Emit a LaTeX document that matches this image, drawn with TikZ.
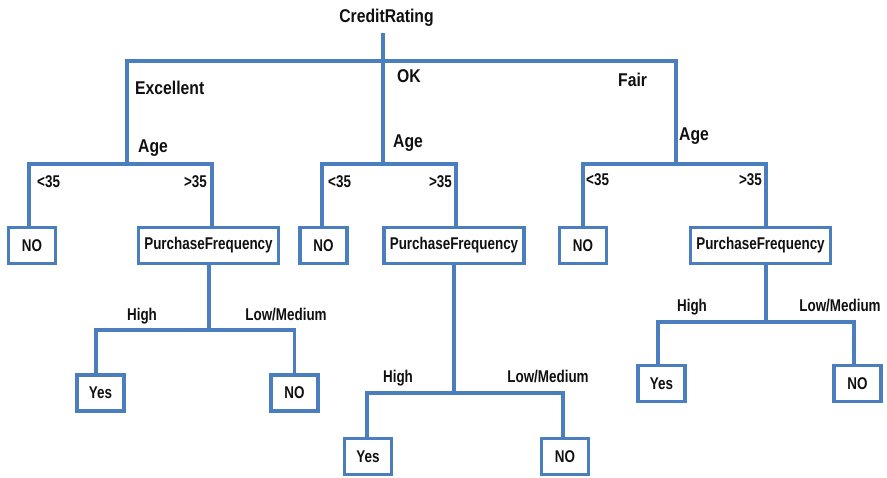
\documentclass[tikz,border=0pt]{standalone}
\usepackage{fontspec}
\setmainfont{Liberation Sans Bold}[FakeStretch=0.8]
\newfontfamily\headfont{Liberation Sans Bold}[FakeStretch=0.85]
\newfontfamily\labelfont{Liberation Sans Bold}[FakeStretch=0.79]
\definecolor{branch}{HTML}{4A7EBF}
\definecolor{ink}{HTML}{101010}
\begin{document}
\begin{tikzpicture}[x=1pt,y=-1pt,
  link/.style={draw=branch, line width=3.2pt},
  box/.style={draw=branch, line width=3.2pt, minimum height=36pt, inner sep=0pt,
    text=ink, font=\labelfont\fontsize{17}{19}\selectfont},
  leafbox/.style={box, minimum width=47pt},
  attrbox/.style={box, minimum width=140pt},
  big/.style={text=ink, inner sep=0pt, font=\headfont\fontsize{18.5}{20}\selectfont},
  small/.style={text=ink, inner sep=0pt, font=\labelfont\fontsize{17}{19}\selectfont}]
\useasboundingbox (0,0) rectangle (887,477);

% root and first split
\node[big, anchor=base] (root) at (386.5,22.3) {CreditRating};
\coordinate (stem) at (383,33);
\coordinate (j0) at (383,61);
\coordinate (aL) at (127,164);
\coordinate (aM) at (383,164);
\coordinate (aR) at (676,164);
\draw[link] (stem) -- (aM);
\draw[link] (aL) |- (j0) -| (aR);

\node[big, anchor=base west] (lexc) at (135,94) {Excellent};
\node[big, anchor=base west] (lok) at (397,82) {OK};
\node[big, anchor=base west] (lfair) at (618,86) {Fair};
\node[big, anchor=base west] (ageL) at (138,152.5) {Age};
\node[big, anchor=base west] (ageM) at (393,147.5) {Age};
\node[big, anchor=base west] (ageR) at (679,140.5) {Age};

% second level boxes
\node[leafbox] (noL) at (32,245.5) {NO};
\node[attrbox] (pfL) at (208.5,245.5) {PurchaseFrequency};
\node[leafbox] (noM) at (323.5,245.5) {NO};
\node[attrbox] (pfM) at (454,245.5) {PurchaseFrequency};
\node[leafbox] (noR) at (583,245.5) {NO};
\node[attrbox] (pfR) at (760.5,245.5) {PurchaseFrequency};

\draw[link] ([xshift=-3pt]noL.north) |- (aL) -| ([xshift=3.5pt]pfL.north);
\draw[link] ([xshift=-1.5pt]noM.north) |- (aM) -| ([xshift=2pt]pfM.north);
\draw[link] (noR.north) |- (aR) -| ([xshift=5.5pt]pfR.north);

\node[small, anchor=base west] (ltL) at (37,187) {<35};
\node[small, anchor=base east] (gtL) at (207,187) {>35};
\node[small, anchor=base west] (ltM) at (328,187) {<35};
\node[small, anchor=base east] (gtM) at (452,187) {>35};
\node[small, anchor=base west] (ltR) at (586,185) {<35};
\node[small, anchor=base east] (gtR) at (762,185) {>35};

% third level
\coordinate (sL) at (209,330);
\coordinate (sM) at (454,393);
\coordinate (sR) at (766,322);

\node[leafbox] (yesLL) at (100.5,393) {Yes};
\node[leafbox] (noLL) at (294.5,393) {NO};
\node[leafbox] (yesML) at (368,456.5) {Yes};
\node[leafbox] (noML) at (565,456.5) {NO};
\node[leafbox] (yesRL) at (661.5,383.5) {Yes};
\node[leafbox] (noRL) at (857.5,383.5) {NO};

\draw[link] ([xshift=0.5pt]pfL.south) -- (sL);
\draw[link] ([xshift=-4.5pt]yesLL.north) |- (sL) -| (noLL.north);
\draw[link] (pfM.south) -- (sM);
\draw[link] ([xshift=-1pt]yesML.north) |- (sM) -| ([xshift=-2pt]noML.north);
\draw[link] ([xshift=5.5pt]pfR.south) -- (sR);
\draw[link] ([xshift=-3.5pt]yesRL.north) |- (sR) -| ([xshift=-3.5pt]noRL.north);

\node[small, anchor=base] (hiL) at (142,320) {High};
\node[small, anchor=base] (lmL) at (286,320) {Low/Medium};
\node[small, anchor=base] (hiM) at (398,382) {High};
\node[small, anchor=base] (lmM) at (548,382) {Low/Medium};
\node[small, anchor=base] (hiR) at (692,311) {High};
\node[small, anchor=base] (lmR) at (840,311) {Low/Medium};
\end{tikzpicture}
\end{document}
